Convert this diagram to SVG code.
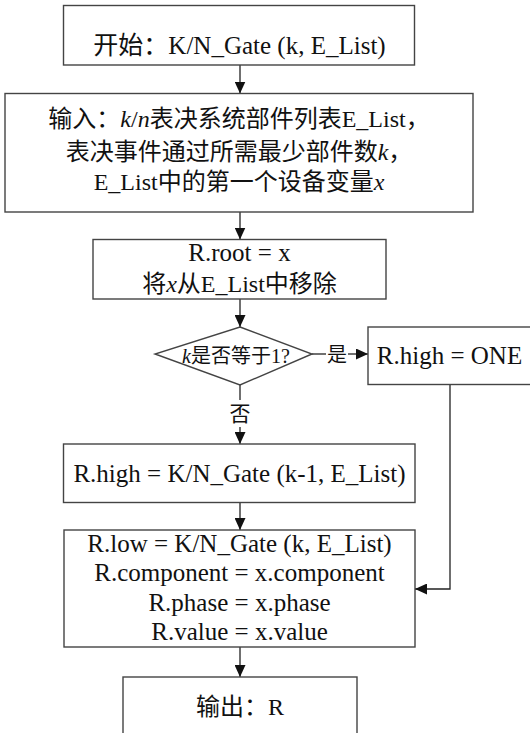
<svg xmlns="http://www.w3.org/2000/svg" width="530" height="733" viewBox="0 0 530 733">
<style>
.box{fill:#fff;stroke:#444;stroke-width:1.4}
.ln{fill:none;stroke:#222;stroke-width:1.3}
text{font-family:"Liberation Serif","Noto Sans CJK SC",serif;fill:#111;text-anchor:middle}
.t{font-size:25px}
.c{font-size:24px}
.s{font-size:20px}
.i{font-style:italic}
</style>
<defs>
<marker id="ah" markerUnits="userSpaceOnUse" markerWidth="12" markerHeight="11" viewBox="0 0 12 11" refX="12" refY="5.5" orient="auto">
<path d="M0,0 L12,5.5 L0,11 z" fill="#111"/>
</marker>
</defs>
<rect width="530" height="733" fill="#fff"/>
<g id="connectors">
<line class="ln" x1="240" y1="65" x2="240" y2="93.5" marker-end="url(#ah)"/>
<line class="ln" x1="240" y1="212" x2="240" y2="239.5" marker-end="url(#ah)"/>
<line class="ln" x1="240" y1="299" x2="240" y2="327" marker-end="url(#ah)"/>
<line class="ln" x1="312" y1="354" x2="326" y2="354"/>
<text class="s" x="337" y="362" font-size="21">是</text>
<line class="ln" x1="348" y1="354" x2="368" y2="354" marker-end="url(#ah)"/>
<line class="ln" x1="240" y1="385" x2="240" y2="400"/>
<text x="240" y="421" font-size="21">否</text>
<line class="ln" x1="240" y1="427" x2="240" y2="444" marker-end="url(#ah)"/>
<line class="ln" x1="240" y1="502.5" x2="240" y2="530" marker-end="url(#ah)"/>
<polyline class="ln" points="450,384 450,589 415,589" marker-end="url(#ah)"/>
<line class="ln" x1="240" y1="647" x2="240" y2="677" marker-end="url(#ah)"/>
</g>
<g id="start">
<rect class="box" x="63.5" y="5.5" width="351" height="59.5"/>
<text class="t" x="239.5" y="53.5">开始：K/N_Gate (k, E_List)</text>
</g>
<g id="input">
<rect class="box" x="5" y="93.5" width="468" height="118.5"/>
<text class="c" x="239" y="127">输入：<tspan class="i">k</tspan>/<tspan class="i">n</tspan>表决系统部件列表E_List，</text>
<text class="c" x="239" y="160">表决事件通过所需最少部件数<tspan class="i">k</tspan>，</text>
<text class="c" x="239" y="190">E_List中的第一个设备变量<tspan class="i">x</tspan></text>
</g>
<g id="root">
<rect class="box" x="93" y="239.5" width="293" height="59.5"/>
<text class="t" x="239.5" y="261">R.root = x</text>
<text class="c" x="239.5" y="292">将<tspan class="i">x</tspan>从E_List中移除</text>
</g>
<g id="decision">
<polygon class="box" points="240,327 312,354 240,385 155,354"/>
<text class="s" x="236" y="363"><tspan class="i">k</tspan>是否等于1?</text>
</g>
<g id="high-one">
<rect class="box" x="368" y="327" width="170" height="57.5"/>
<text class="t" x="449.5" y="364">R.high = ONE</text>
</g>
<g id="high-rec">
<rect class="box" x="63.5" y="444" width="351.5" height="58.5"/>
<text class="t" x="239.5" y="482">R.high = K/N_Gate (k-1, E_List)</text>
</g>
<g id="assign">
<rect class="box" x="64" y="530" width="351" height="117"/>
<text class="t" x="239.5" y="552">R.low = K/N_Gate (k, E_List)</text>
<text class="t" x="239.5" y="581">R.component = x.component</text>
<text class="t" x="239.5" y="611">R.phase = x.phase</text>
<text class="t" x="239.5" y="640">R.value = x.value</text>
</g>
<g id="output">
<rect class="box" x="123" y="677" width="234" height="70"/>
<text class="c" x="240" y="715">输出：R</text>
</g>
</svg>
